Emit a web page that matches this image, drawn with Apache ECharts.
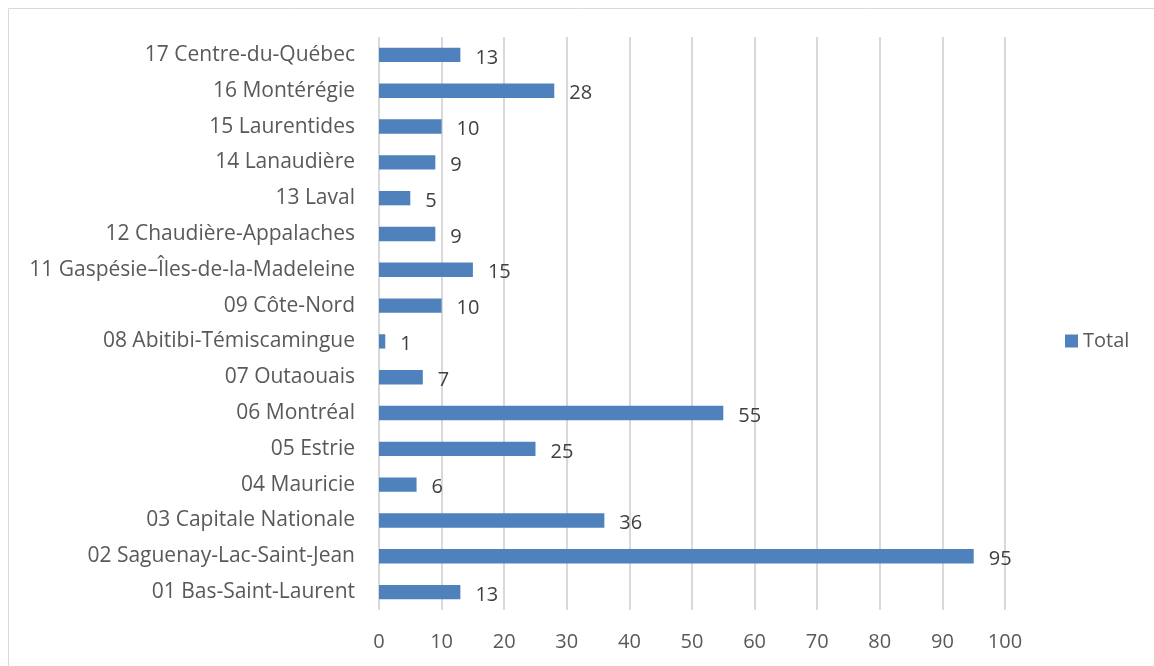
<!DOCTYPE html>
<html>
<head>
<meta charset="utf-8">
<script src="https://cdn.jsdelivr.net/npm/echarts@6/dist/echarts.min.js"></script>
<style>
    html, body { margin: 0; padding: 0; background: #fff; }
    #chart { width: 1154px; height: 666px; }
</style>
</head>
<body>
<div id="chart"></div>
<script>
    var regions = [
        '01 Bas-Saint-Laurent',
        '02 Saguenay-Lac-Saint-Jean',
        '03 Capitale Nationale',
        '04 Mauricie',
        '05 Estrie',
        '06 Montréal',
        '07 Outaouais',
        '08 Abitibi-Témiscamingue',
        '09 Côte-Nord',
        '11 Gaspésie–Îles-de-la-Madeleine',
        '12 Chaudière-Appalaches',
        '13 Laval',
        '14 Lanaudière',
        '15 Laurentides',
        '16 Montérégie',
        '17 Centre-du-Québec'
    ];
    var totals = [13, 95, 36, 6, 25, 55, 7, 1, 10, 15, 9, 5, 9, 10, 28, 13];
    var seriesName = 'Total';

    var textColor = '#595959';
    var font = '"Open Sans", sans-serif';

    var option = {
        animation: false,
        textStyle: { fontFamily: font },
        graphic: [{
            type: 'rect',
            shape: { x: 8.5, y: 8.5, width: 1160, height: 680 },
            style: { fill: 'none', stroke: '#d9d9d9', lineWidth: 1 },
            silent: true
        }],
        grid: {
            left: 379,
            right: 149,
            top: 37,
            bottom: 56
        },
        legend: {
            data: [seriesName],
            orient: 'vertical',
            left: 1060,
            top: 326,
            icon: 'rect',
            itemWidth: 13,
            itemHeight: 13,
            itemGap: 7,
            textStyle: { fontSize: 20, color: textColor, fontFamily: font }
        },
        xAxis: {
            type: 'value',
            min: 0,
            max: 100,
            interval: 10,
            axisLine: { show: false },
            axisTick: { show: false },
            axisLabel: { fontSize: 20, color: textColor, margin: 22, fontFamily: font },
            splitLine: { lineStyle: { color: '#d9d9d9', width: 2 } }
        },
        yAxis: {
            type: 'category',
            data: regions,
            axisLine: { show: false },
            axisTick: { show: false },
            axisLabel: { fontSize: 21, color: textColor, margin: 24, fontFamily: font },
            splitLine: { show: false }
        },
        series: [{
            name: seriesName,
            type: 'bar',
            data: totals,
            barCategoryGap: '60%',
            itemStyle: { color: '#4f81bd' },
            label: {
                show: true,
                position: 'right',
                distance: 15,
                fontSize: 20,
                color: '#404040',
                fontFamily: font,
                offset: [0, 3]
            }
        }]
    };

    var myChart = echarts.init(document.getElementById('chart'));
    myChart.setOption(option);
</script>
</body>
</html>
